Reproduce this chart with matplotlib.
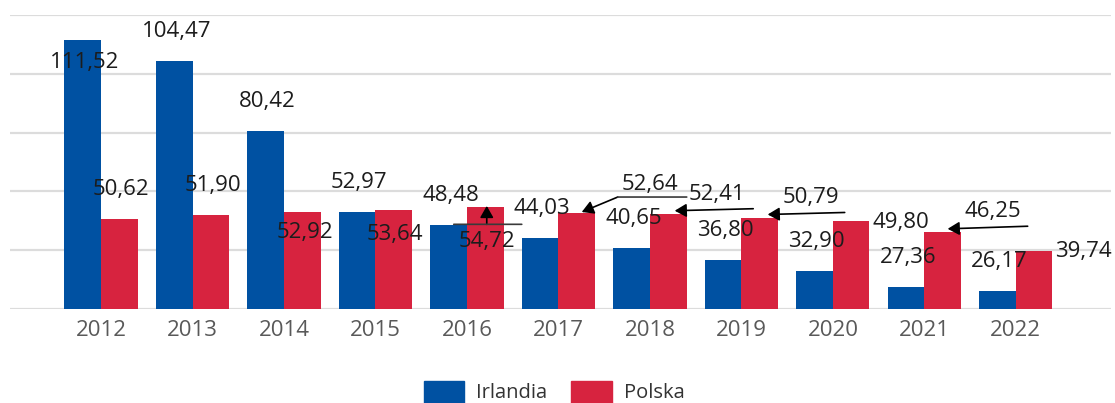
import numpy as np
import matplotlib
matplotlib.use("Agg")
import matplotlib.pyplot as plt
from matplotlib.patches import Patch
from matplotlib.transforms import offset_copy

# data
years = ["2012", "2013", "2014", "2015", "2016", "2017", "2018", "2019", "2020", "2021", "2022"]
irlandia = [111.52, 104.47, 80.42, 52.97, 48.48, 44.03, 40.65, 36.80, 32.90, 27.36, 26.17]
polska = [50.62, 51.90, 52.92, 53.64, 54.72, 52.64, 52.41, 50.79, 49.80, 46.25, 39.74]

BLUE = "#0051a2"
RED = "#d7233f"
GRID = "#dcdcdc"
TXT = "#1c1c1c"

plt.rcParams["font.family"] = ["Open Sans", "DejaVu Sans"]

fig = plt.figure(figsize=(11.15, 4.03), dpi=100)
ax = fig.add_axes([10 / 1115, 1 - 309 / 403, 1101 / 1115, 294 / 403])

x = np.arange(len(years))
w = 0.4
ax.bar(x - w / 2, irlandia, w, bottom=0, color=BLUE, zorder=2)
ax.bar(x + w / 2, polska, w, bottom=0, color=RED, zorder=2)

ax.set_ylim(20, 120)
ax.set_xlim(-0.995, 11.04)
ax.set_yticks([20, 40, 60, 80, 100, 120])
ax.set_yticklabels([])
ax.grid(axis="y", color=GRID, linewidth=1.6, zorder=0)
ax.set_axisbelow(True)
for s in ax.spines.values():
    s.set_visible(False)
ax.tick_params(axis="both", length=0)
ax.tick_params(axis="x", pad=8, labelsize=16, labelcolor="#595959")
ax.set_xticks(x)
ax.set_xticklabels(years)


def fmt(v):
    return f"{v:.2f}".replace(".", ",")


# label offsets in pixels from bar top (x right, y up)
blue_off = [(2, -23)] + [(2, 29.5)] * 10
red_off = [(1.5, 29), (2, 30), (2.5, -20), (1, -24), (1.5, -35), (73, 29),
           (49, 19), (51, 21), (50, -1), (50, 20), (49, -1)]

for i, v in enumerate(irlandia):
    ax.annotate(fmt(v), xy=(x[i] - w / 2, v), xytext=blue_off[i], textcoords="offset pixels",
                ha="center", va="center", fontsize=16, color=TXT, annotation_clip=False, zorder=5)
for i, v in enumerate(polska):
    ax.annotate(fmt(v), xy=(x[i] + w / 2, v), xytext=red_off[i], textcoords="offset pixels",
                ha="center", va="center", fontsize=16, color=TXT, annotation_clip=False, zorder=5)

# leader lines: (year index, tip offset, tail offset, extra plain segment or None)
leaders = [
    (4, (1.5, 1), (1.5, -17.4), ((-31.5, -17.4), (36.5, -17.4))),
    (5, (5, 1), (41, 16), ((41, 16), (110, 16))),
    (6, (6.5, 3), (85, 5), None),
    (7, (8, 4), (85, 6), None),
    (9, (5, 3), (85, 5.6), None),
]
LC = "#3a3a3a"
for i, tip, tail, seg in leaders:
    xy = (x[i] + w / 2, polska[i])
    tr = offset_copy(ax.transData, fig=fig, x=tip[0], y=tip[1], units="dots")
    ax.annotate("", xy=xy, xycoords=tr, xytext=(tail[0] - tip[0], tail[1] - tip[1]),
                textcoords="offset pixels", annotation_clip=False,
                arrowprops=dict(arrowstyle="-|>,head_length=0.7,head_width=0.4", mutation_scale=10,
                                color="black", lw=1.2, shrinkA=0, shrinkB=0), zorder=6)
    if seg is not None:
        tr2 = offset_copy(ax.transData, fig=fig, x=seg[0][0], y=seg[0][1], units="dots")
        ax.annotate("", xy=xy, xycoords=tr2,
                    xytext=(seg[1][0] - seg[0][0], seg[1][1] - seg[0][1]),
                    textcoords="offset pixels", annotation_clip=False,
                    arrowprops=dict(arrowstyle="-", color=LC, lw=1.2, shrinkA=0, shrinkB=0), zorder=6)

handles = [Patch(color=BLUE, label="Irlandia"), Patch(color=RED, label="Polska")]
fig.legend(handles=handles, loc="center", bbox_to_anchor=(0.497, 11 / 403), ncol=2, frameon=False,
           fontsize=14.5, handlelength=2.0, handleheight=1.3, handletextpad=0.6, columnspacing=1.2,
           labelcolor="#333333")

fig.savefig("out.png", dpi=100)
